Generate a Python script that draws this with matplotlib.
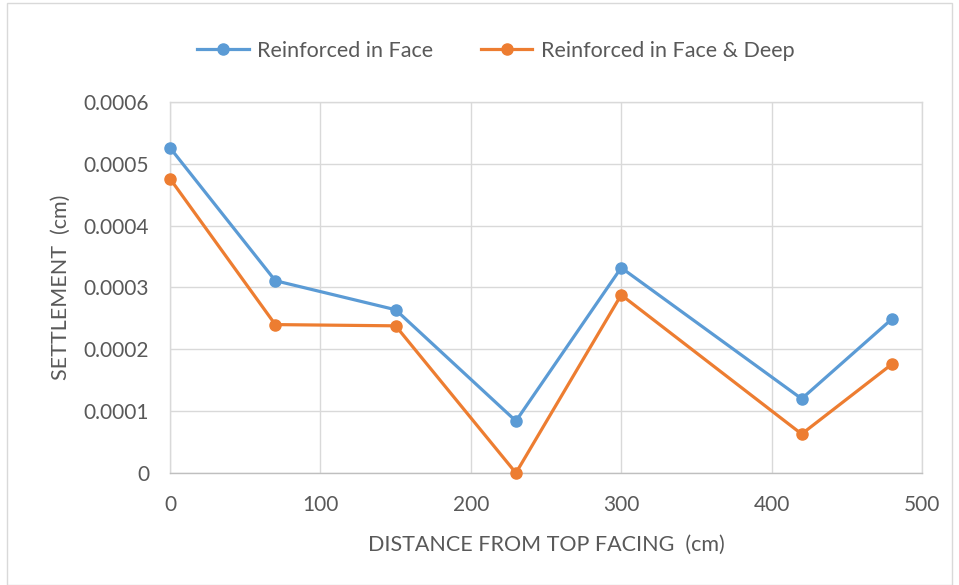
import matplotlib.pyplot as plt
from matplotlib.patches import Rectangle

plt.rcParams['font.family'] = ['Lato', 'DejaVu Sans']

distance = [0, 70, 150, 230, 300, 420, 480]
face = [0.000526, 0.000311, 0.000264, 0.000084, 0.000332, 0.000120, 0.000249]
face_deep = [0.000476, 0.000240, 0.000238, 0.000000, 0.000288, 0.000063, 0.000176]

x_ticks = [0, 100, 200, 300, 400, 500]
y_ticks = [0, 0.0001, 0.0002, 0.0003, 0.0004, 0.0005, 0.0006]
y_labels = ["0", "0.0001", "0.0002", "0.0003", "0.0004", "0.0005", "0.0006"]

blue = "#5B9BD5"
orange = "#ED7D31"
grid = "#D9D9D9"
txt = "#595959"

fig = plt.figure(figsize=(9.59, 5.85), dpi=100)
ax = fig.add_axes([0.1773, 0.1915, 0.7841, 0.6341])

ax.plot(distance, face, color=blue, linewidth=2.3, marker="o", markersize=8,
        label="Reinforced in Face", clip_on=False, zorder=3)
ax.plot(distance, face_deep, color=orange, linewidth=2.3, marker="o", markersize=8,
        label="Reinforced in Face & Deep", clip_on=False, zorder=3)

ax.set_xlim(0, 500)
ax.set_ylim(0, 0.0006)
ax.set_xticks(x_ticks)
ax.set_yticks(y_ticks)
ax.set_yticklabels(y_labels)
ax.tick_params(length=0, labelsize=15, labelcolor=txt)
ax.tick_params(axis="x", pad=16)
ax.tick_params(axis="y", pad=15)
ax.grid(True, color=grid, linewidth=1)
ax.set_axisbelow(True)
for s in ax.spines.values():
    s.set_color(grid)
    s.set_linewidth(1)
ax.spines["bottom"].set_color("#BFBFBF")

ax.set_xlabel("DISTANCE FROM TOP FACING  (cm)", fontsize=15.5, color=txt, labelpad=14)
ax.set_ylabel("SETTLEMENT  (cm)", fontsize=15.5, color=txt)
ax.yaxis.set_label_coords(-0.132, 0.5)

fig.legend(loc="center", bbox_to_anchor=(0.517, 0.913), ncol=2, frameon=False,
           fontsize=15.5, labelcolor=txt, handlelength=2.4, columnspacing=2.2,
           handletextpad=0.4)

# thin outer frame around the whole chart area
fig.patches.append(Rectangle((0.007, 0.0), 0.986, 0.995, transform=fig.transFigure,
                             fill=False, edgecolor="#D9D9D9", linewidth=1))

fig.savefig("out.png", dpi=100)
